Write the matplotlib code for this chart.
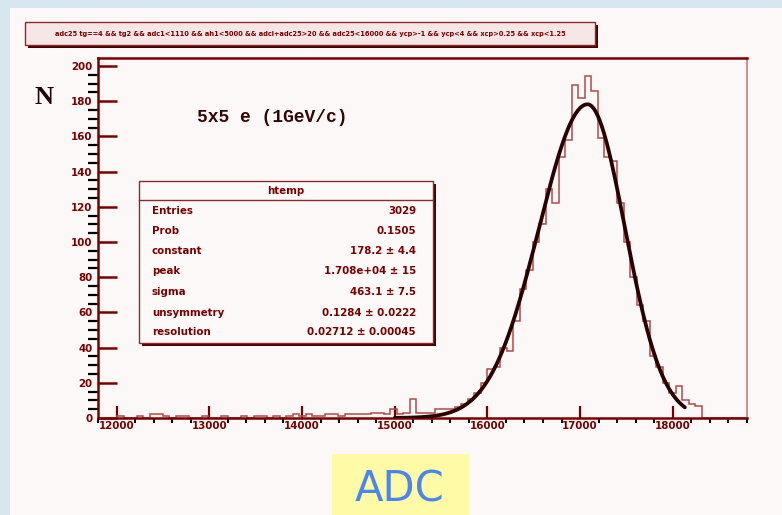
import numpy as np
import matplotlib
matplotlib.use('Agg')
import matplotlib.pyplot as plt
from matplotlib.patches import Rectangle
from matplotlib.ticker import MultipleLocator
from matplotlib import font_manager

W, H = 782, 515

# htemp: 100 bins of 70 ADC counts starting at 11800
bin_lo = 11800
bin_w = 70
counts = [0, 0, 0, 1, 0, 0, 1, 0, 2, 2,
          1, 0, 1, 1, 0, 0, 1, 0, 0, 1,
          0, 0, 1, 0, 1, 1, 0, 1, 0, 1,
          2, 1, 2, 1, 1, 2, 2, 1, 2, 2,
          2, 2, 3, 3, 2,
          5, 2, 3, 11, 3, 3, 3, 5, 5, 5, 6, 8, 11, 14, 20,
          28, 29, 40, 38, 55, 73, 84, 100, 110, 130, 122, 148, 158,
          189, 182, 194, 186, 159,
          148, 146, 122, 100, 80, 64, 55, 35, 29, 20, 14, 18, 10, 8, 7,
          0, 0, 0, 0, 0, 0, 0]

# asymmetric gaussian fit result
fit_const = 178.2
fit_const_err = 4.4
fit_peak = 1.708e4
fit_peak_err = 15
fit_sigma = 463.1
fit_sigma_err = 7.5
fit_unsym = 0.1284
fit_unsym_err = 0.0222
fit_res = 0.02712
fit_res_err = 0.00045
fit_prob = 0.1505
fit_lo, fit_hi = 15000, 18130

x_ticks = [12000, 13000, 14000, 15000, 16000, 17000, 18000]
y_ticks = [0, 20, 40, 60, 80, 100, 120, 140, 160, 180, 200]

cut_text = ('adc25 tg==4 && tg2 && adc1<1110 && ah1<5000 && adcl+adc25>20 && '
            'adc25<16000 && ycp>-1 && ycp<4 && xcp>0.25 && xcp<1.25')

DARK = '#7a0000'
HIST = '#b24a4a'
FIT = '#2a0000'

names = {f.name for f in font_manager.fontManager.ttflist}
narrow = 'Liberation Sans Narrow' if 'Liberation Sans Narrow' in names else 'DejaVu Sans'
serif = 'Liberation Serif' if 'Liberation Serif' in names else 'DejaVu Serif'
mono = 'Liberation Mono' if 'Liberation Mono' in names else 'DejaVu Sans Mono'
small = 8.2


def fx(x):
    return x / W


def fy(y):
    return 1 - y / H


def box(x0, y0, x1, y1, **kw):
    r = Rectangle((fx(x0), fy(y1)), fx(x1) - fx(x0), fy(y0) - fy(y1),
                  transform=fig.transFigure, **kw)
    fig.add_artist(r)
    return r


fig = plt.figure(figsize=(W / 100, H / 100), dpi=100)
fig.patch.set_facecolor('#d8e7ef')
box(10, 8, W + 5, H + 5, facecolor='#fcf8f8', edgecolor='none', zorder=0)

ax = fig.add_axes([fx(98), fy(418), fx(747) - fx(98), fy(58) - fy(418)])
ax.set_facecolor('#fcf8f8')

edges = bin_lo + bin_w * np.arange(len(counts) + 1)
ax.stairs(counts, edges, color=HIST, lw=1.1, zorder=2)

xf = np.linspace(fit_lo, fit_hi, 800)
sig = np.where(xf < fit_peak, fit_sigma * (1 + fit_unsym), fit_sigma * (1 - fit_unsym))
yf = fit_const * np.exp(-0.5 * ((xf - fit_peak) / sig) ** 2)
ax.plot(xf, yf, color=FIT, lw=2.7, zorder=3, solid_capstyle='round')

ax.set_xlim(11800, 18800)
ax.set_ylim(0, 204.5)
ax.set_xticks(x_ticks)
ax.set_yticks(y_ticks)
ax.xaxis.set_minor_locator(MultipleLocator(200))
ax.yaxis.set_minor_locator(MultipleLocator(5))
ax.tick_params(direction='in', colors=DARK, labelcolor=DARK)
ax.tick_params(axis='y', which='major', length=14, width=1.8, pad=4)
ax.tick_params(axis='y', which='minor', length=7, width=1.6)
ax.tick_params(axis='x', which='major', length=8.5, width=1.6, pad=2)
ax.tick_params(axis='x', which='minor', length=3.6, width=1.4)
for lab in ax.get_xticklabels() + ax.get_yticklabels():
    lab.set_fontfamily(narrow)
    lab.set_fontstretch('condensed')
    lab.set_fontweight('bold')
    lab.set_fontsize(small)

for side in ['left', 'bottom', 'top']:
    ax.spines[side].set_color(DARK)
    ax.spines[side].set_linewidth(1.8)
ax.spines['right'].set_color('#c58a8a')
ax.spines['right'].set_linewidth(1.3)

# cut string box
box(28, 25, 598, 48, facecolor='#4a0000', edgecolor='none', zorder=1)
box(25, 22, 595, 45, facecolor='#f6e6e6', edgecolor='#8b2a2a', lw=1, zorder=2)
fig.text(fx(310), fy(33.5), cut_text, ha='center', va='center', fontsize=5.3,
         family=narrow, stretch='condensed', weight='bold', color=DARK, zorder=3)

fig.text(fx(44), fy(97), 'N', ha='center', va='center', fontsize=19,
         family=serif, weight='bold', color='#220404')
fig.text(fx(197), fy(118), '5x5 e (1GeV/c)', ha='left', va='center', fontsize=13,
         family=mono, weight='bold', color='#330606')

# stats box
box(142, 184, 436, 346, facecolor='#4a0000', edgecolor='none', zorder=4)
box(139, 181, 433, 343, facecolor='#fdf9f9', edgecolor='#8b2a2a', lw=1, zorder=5)
fig.add_artist(plt.Line2D([fx(139), fx(433)], [fy(200), fy(200)],
                          transform=fig.transFigure, color='#8b2a2a', lw=1, zorder=6))
fig.text(fx(286), fy(190.5), 'htemp', ha='center', va='center', fontsize=small,
         family=narrow, stretch='condensed', weight='bold', color=DARK, zorder=6)

stat_names = ['Entries', 'Prob', 'constant', 'peak', 'sigma', 'unsymmetry', 'resolution']
stat_values = [
    f'{sum(counts)}',
    f'{fit_prob:.4f}',
    f'{fit_const:.1f} \u00b1 {fit_const_err:.1f}',
    f'{fit_peak:.3e} \u00b1 {fit_peak_err}',
    f'{fit_sigma:.1f} \u00b1 {fit_sigma_err:.1f}',
    f'{fit_unsym:.4f} \u00b1 {fit_unsym_err:.4f}',
    f'{fit_res:.5f} \u00b1 {fit_res_err:.5f}',
]
row_y = [211.5, 231.5, 251, 271.5, 292, 312.5, 332]
for name, val, yy in zip(stat_names, stat_values, row_y):
    fig.text(fx(152), fy(yy), name, ha='left', va='center', fontsize=small,
             family=narrow, stretch='condensed', weight='bold', color=DARK, zorder=6)
    fig.text(fx(416), fy(yy), val, ha='right', va='center', fontsize=small,
             family=narrow, stretch='condensed', weight='bold', color=DARK, zorder=6)

# axis caption
box(332, 454, 469, H + 5, facecolor='#fffaa6', edgecolor='none', zorder=1)
fig.text(fx(400), fy(489), 'ADC', ha='center', va='center', fontsize=30,
         family='DejaVu Sans', color='#4a86ee', zorder=2)

fig.savefig('out.png', dpi=100, facecolor=fig.get_facecolor())
